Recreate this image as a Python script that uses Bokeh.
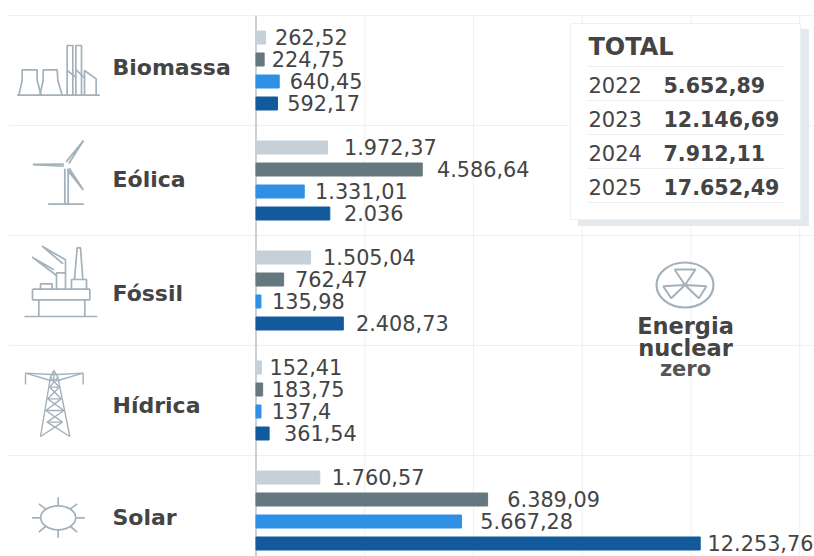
from bokeh.core.properties import value
from bokeh.embed import file_html
from bokeh.models import ColumnDataSource, Range1d
from bokeh.plotting import figure
from bokeh.resources import INLINE

# Generation by source and year
sources = ["Biomassa", "Eólica", "Fóssil", "Hídrica", "Solar"]
years = ["2022", "2023", "2024", "2025"]
gen_2022 = [262.52, 1972.37, 1505.04, 152.41, 1760.57]
gen_2023 = [224.75, 4586.64, 762.47, 183.75, 6389.09]
gen_2024 = [640.45, 1331.01, 135.98, 137.4, 5667.28]
gen_2025 = [592.17, 2036, 2408.73, 361.54, 12253.76]
totals = ["5.652,89", "12.146,69", "7.912,11", "17.652,49"]
grid_values = [3000, 6000, 9000, 12000, 15000]

# Layout and style
W, H = 814, 556
PX_PER_UNIT = 0.03625
ZERO_PX = 255.5
TOP = 15
ROW = 110
BAR_STEP = 22
BAR_H = 13
colors = ["#c5d0d8", "#66787f", "#2f90e6", "#125a9c"]
TEXT = "#444444"
ICON = "#a3b1ba"
RULE = "#eef0f1"
# Gap between a bar's end and its label, per year then per source
label_gaps = [
    [9.5, 16.5, 12.5, 8, 12],
    [7.6, 14.7, 11.4, 9, 19.7],
    [10.5, 10.8, 11, 10.7, 18.9],
    [9.8, 14.2, 12.7, 14.9, 7.4],
]

SANS = value("DejaVu Sans")

p = figure(
    width=W, height=H, output_backend="svg", toolbar_location=None,
    x_range=Range1d(-ZERO_PX / PX_PER_UNIT, (W - ZERO_PX) / PX_PER_UNIT),
    y_range=Range1d(H, 0),
    min_border=0, outline_line_color=None, background_fill_color="white",
)
p.extra_x_ranges = {"px": Range1d(0, W)}
p.axis.visible = False
p.grid.visible = False


def fmt(v):
    """Brazilian number format, dropping trailing decimal zeros."""
    s = f"{v:,.2f}".replace(",", "_").replace(".", ",").replace("_", ".")
    return s.rstrip("0").rstrip(",") if "," in s else s


# Grid rules and the zero baseline
p.segment(x0=grid_values, x1=grid_values, y0=TOP, y1=H, line_color=RULE, line_width=1)
row_edges = [TOP + ROW * i for i in range(5)]
p.segment(x0=[8] * 5, x1=[W] * 5, y0=row_edges, y1=row_edges,
          line_color=RULE, line_width=1.2, x_range_name="px")
p.segment(x0=[0], x1=[0], y0=[TOP], y1=[H], line_color="#a9b1b6", line_width=1.2)

# Bars with their value labels
for yi, (series, color, gaps) in enumerate(zip([gen_2022, gen_2023, gen_2024, gen_2025], colors, label_gaps)):
    ys = [TOP + ROW * i + BAR_STEP * (yi + 1) for i in range(len(sources))]
    src = ColumnDataSource(dict(y=ys, right=series, gap=gaps, label=[fmt(v) for v in series]))
    p.hbar(y="y", left=0, right="right", height=BAR_H, color=color, source=src)
    p.text(x="right", y="y", text="label", x_offset="gap", y_offset=-1, source=src,
           text_font=SANS, text_font_size="20.8px", text_color=TEXT,
           text_baseline="middle", text_align="left")

# Source names
p.text(x=[112] * 5, y=[67, 179, 293, 405, 517], text=sources, x_range_name="px",
       text_font=SANS, text_font_style="bold", text_font_size="22px",
       text_color=TEXT, text_baseline="middle", text_align="left")

# Totals card with its offset shadow
p.quad(left=[578], right=[808], top=[29], bottom=[225], color="#e4e9ed", x_range_name="px")
p.quad(left=[570], right=[800], top=[23], bottom=[219], fill_color="white",
       line_color="#eef0f2", x_range_name="px")
card_rules = [66, 100, 134, 168, 202]
p.segment(x0=[587] * 5, x1=[784] * 5, y0=card_rules, y1=card_rules,
          line_color=RULE, line_width=1.2, x_range_name="px")
p.text(x=[588], y=[46], text=["TOTAL"], x_range_name="px", text_font=SANS,
       text_font_style="bold", text_font_size="24px", text_color=TEXT,
       text_baseline="middle")
row_ys = [84, 118, 152, 186]
p.text(x=[588] * 4, y=row_ys, text=years, x_range_name="px", text_font=SANS,
       text_font_size="21px", text_color=TEXT, text_baseline="middle")
p.text(x=[663] * 4, y=row_ys, text=totals, x_range_name="px", text_font=SANS,
       text_font_style="bold", text_font_size="20.6px", text_color=TEXT,
       text_baseline="middle")

# Nuclear note
p.text(x=[685] * 2, y=[325, 347], text=["Energia", "nuclear"], x_range_name="px",
       text_font=SANS, text_font_style="bold", text_font_size="22.5px",
       text_color=TEXT, text_baseline="middle", text_align="center")
p.text(x=[685], y=[368], text=["zero"], x_range_name="px", text_font=SANS,
       text_font_style="bold", text_font_size="21px", text_color="#555555",
       text_baseline="middle", text_align="center")
p.ellipse(x=[684.5], y=[284.5], width=[57], height=[45], fill_color=None,
          line_color=ICON, line_width=2.2, x_range_name="px")
p.multi_line(
    xs=[[674, 695, 684.5, 674], [662.7, 684.5, 670.7, 662.7], [706, 684.5, 698.3, 706]],
    ys=[[269, 269, 284.5, 269], [285.7, 284.5, 297.7, 285.7], [285.7, 284.5, 297.7, 285.7]],
    line_color=ICON, line_width=2, x_range_name="px",
)


def outline(paths, ox=0, oy=0, width=1.7):
    """Stroke pictogram paths given at triple scale around an origin."""
    p.multi_line(
        xs=[[ox + x / 3 for x, _ in path] for path in paths],
        ys=[[oy + y / 3 for _, y in path] for path in paths],
        line_color=ICON, line_width=width, x_range_name="px",
    )


# Power plant
outline([
    [(50, 284), (298, 284)],
    [(55, 284), (65, 240), (65, 208), (110, 208), (110, 240), (122, 284)],
    [(118, 284), (128, 240), (128, 208), (170, 208), (172, 240), (185, 284)],
    [(200, 284), (200, 135), (217, 135), (217, 284)],
    [(226, 284), (226, 135), (243, 135), (243, 284)],
    [(200, 210), (226, 230)],
    [(226, 207), (252, 232)],
    [(252, 284), (252, 210), (287, 235), (287, 284)],
])
# Wind turbine
outline([
    [(193, 505), (193, 611)],
    [(203, 505), (203, 611)],
    [(143, 611), (250, 611)],
    [(197, 484), (249, 420), (205, 489)],
    [(190, 491), (97, 492), (190, 497)],
    [(206, 503), (248, 568), (201, 508)],
], width=1.8)
# Offshore platform
outline([
    [(72, 258), (290, 258)],
    [(96, 176), (268, 176), (268, 208), (96, 208), (96, 176)],
    [(115, 208), (115, 258)],
    [(253, 208), (253, 258)],
    [(120, 176), (120, 160), (155, 160), (155, 176)],
    [(168, 176), (168, 127), (195, 127), (195, 176)],
    [(195, 127), (195, 88), (125, 47), (188, 100)],
    [(168, 135), (95, 80), (160, 118)],
    [(213, 176), (213, 147), (258, 147), (258, 176)],
    [(222, 147), (230, 52), (240, 52), (247, 147)],
], oy=230)
# Transmission tower
outline([
    [(120, 618), (150, 440), (160, 420), (172, 440), (208, 618)],
    [(120, 618), (186, 575), (136, 540), (182, 505), (148, 470), (172, 440)],
    [(208, 618), (140, 575), (190, 540), (142, 505), (176, 470), (150, 440)],
    [(75, 428), (150, 450), (172, 450), (248, 428)],
    [(75, 428), (150, 432), (172, 432), (248, 428)],
    [(75, 428), (75, 462)],
    [(248, 428), (248, 462)],
    [(160, 420), (160, 455)],
    [(140, 575), (186, 575)],
    [(136, 540), (190, 540)],
    [(142, 505), (182, 505)],
    [(148, 470), (176, 470)],
], oy=230, width=1.4)
# Sun
outline([
    [(173, 800), (173, 825)],
    [(173, 898), (173, 922)],
    [(95, 862), (120, 862)],
    [(227, 862), (253, 862)],
    [(115, 820), (135, 835)],
    [(230, 820), (210, 835)],
    [(115, 905), (135, 888)],
    [(230, 905), (210, 888)],
], oy=230)
p.ellipse(x=[57.7], y=[517.3], width=[35], height=[24], fill_color=None,
          line_color=ICON, line_width=1.7, x_range_name="px")

open("out.html", "w").write(file_html(p, INLINE))
